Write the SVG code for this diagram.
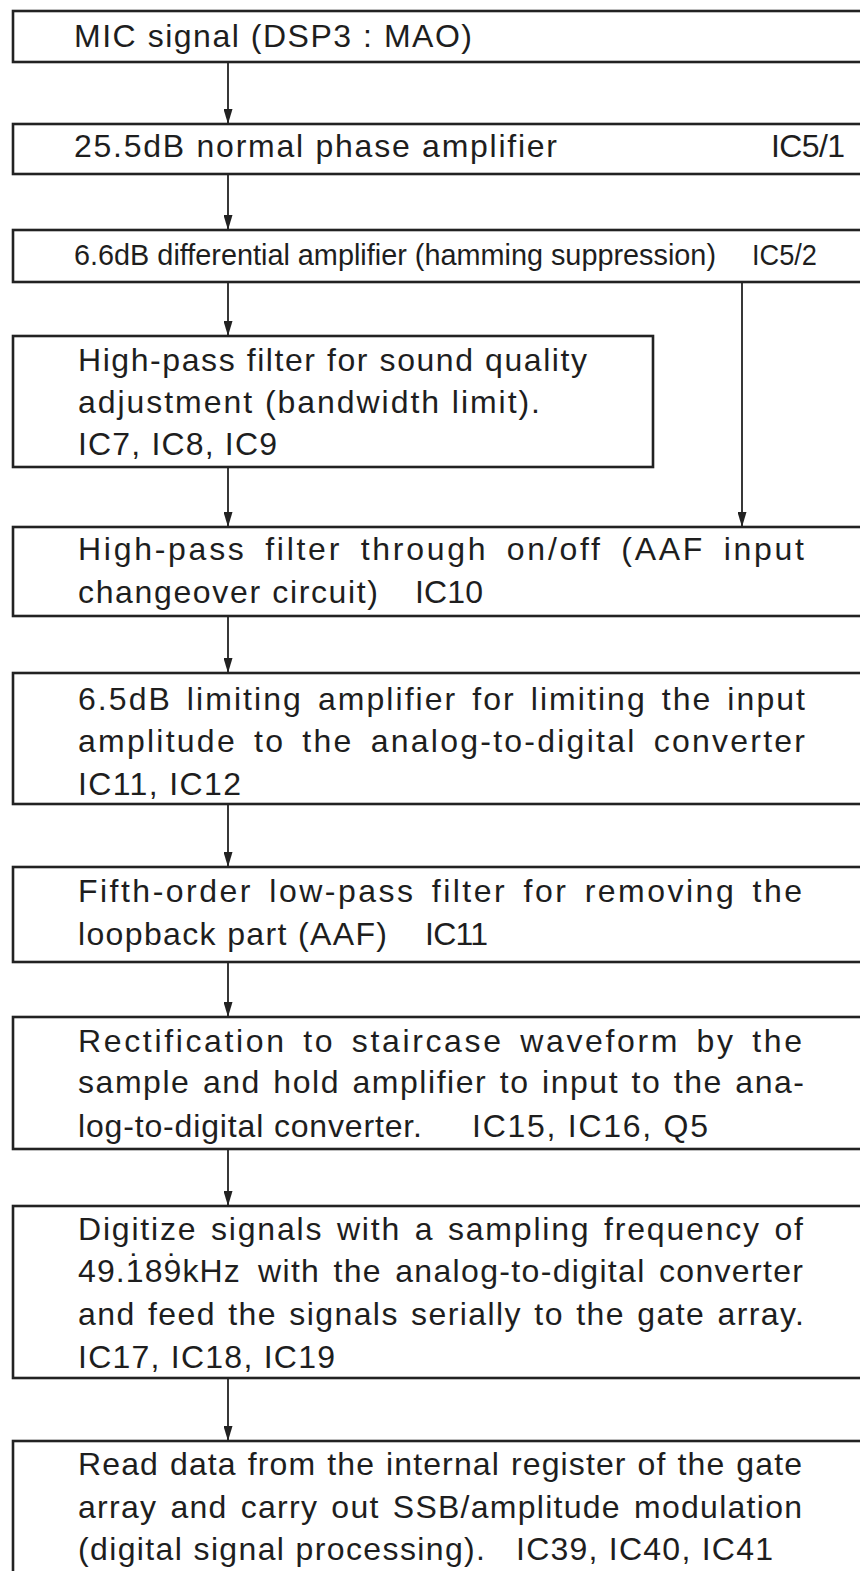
<svg xmlns="http://www.w3.org/2000/svg" width="860" height="1571" viewBox="0 0 860 1571">
<defs>
<style>
.box{fill:#fff;stroke:#222;stroke-width:2.6}
.con{fill:none;stroke:#222;stroke-width:1.8}
text{font-family:"Liberation Sans",Arial,Helvetica,sans-serif;font-size:32px;fill:#1e1e1e}
</style>
<marker id="ah" markerUnits="userSpaceOnUse" markerWidth="15" markerHeight="9" refX="15" refY="4.5" orient="auto" viewBox="0 0 15 9">
<path d="M0,0 L15,4.5 L0,9 z" fill="#222"/>
</marker>
</defs>
<rect width="860" height="1571" fill="#fff"/>
<g id="connectors">
<line class="con" x1="228" y1="62" x2="228" y2="124" marker-end="url(#ah)"/>
<line class="con" x1="228" y1="174" x2="228" y2="230" marker-end="url(#ah)"/>
<line class="con" x1="228" y1="282" x2="228" y2="336" marker-end="url(#ah)"/>
<line class="con" x1="742" y1="282" x2="742" y2="527" marker-end="url(#ah)"/>
<line class="con" x1="228" y1="467" x2="228" y2="527" marker-end="url(#ah)"/>
<line class="con" x1="228" y1="616" x2="228" y2="673" marker-end="url(#ah)"/>
<line class="con" x1="228" y1="804" x2="228" y2="867" marker-end="url(#ah)"/>
<line class="con" x1="228" y1="962" x2="228" y2="1017" marker-end="url(#ah)"/>
<line class="con" x1="228" y1="1149" x2="228" y2="1206" marker-end="url(#ah)"/>
<line class="con" x1="228" y1="1378" x2="228" y2="1441" marker-end="url(#ah)"/>
</g>
<g id="n1">
<rect class="box" x="13" y="11" width="870" height="51"/>
<text x="74" y="47" textLength="398">MIC signal (DSP3 : MAO)</text>
</g>
<g id="n2">
<rect class="box" x="13" y="124" width="870" height="50"/>
<text x="74" y="157" textLength="483">25.5dB normal phase amplifier</text>
<text x="771" y="157" textLength="74">IC5/1</text>
</g>
<g id="n3">
<rect class="box" x="13" y="230" width="870" height="52"/>
<text x="74" y="265" style="font-size:30px" textLength="642" lengthAdjust="spacingAndGlyphs">6.6dB differential amplifier (hamming suppression)</text>
<text x="752" y="265" style="font-size:30px" textLength="65" lengthAdjust="spacingAndGlyphs">IC5/2</text>
</g>
<g id="n4">
<rect class="box" x="13" y="336" width="640" height="131"/>
<text x="78" y="371" textLength="509">High-pass filter for sound quality</text>
<text x="78" y="413" textLength="462">adjustment (bandwidth limit).</text>
<text x="78" y="455" textLength="199">IC7, IC8, IC9</text>
</g>
<g id="n5">
<rect class="box" x="13" y="527" width="870" height="89"/>
<text x="78" y="560" textLength="726" word-spacing="7">High-pass filter through on/off (AAF input</text>
<text x="78" y="603" textLength="300">changeover circuit)</text>
<text x="415" y="603" textLength="68">IC10</text>
</g>
<g id="n6">
<rect class="box" x="13" y="673" width="870" height="131"/>
<text x="78" y="710" textLength="727" word-spacing="4">6.5dB limiting amplifier for limiting the input</text>
<text x="78" y="752" textLength="727" word-spacing="6">amplitude to the analog-to-digital converter</text>
<text x="78" y="795" textLength="163">IC11, IC12</text>
</g>
<g id="n7">
<rect class="box" x="13" y="867" width="870" height="95"/>
<text x="78" y="902" textLength="724" word-spacing="5">Fifth-order low-pass filter for removing the</text>
<text x="78" y="945" textLength="309">loopback part (AAF)</text>
<text x="425" y="945" textLength="63">IC11</text>
</g>
<g id="n8">
<rect class="box" x="13" y="1017" width="870" height="132"/>
<text x="78" y="1052" textLength="724" word-spacing="5">Rectification to staircase waveform by the</text>
<text x="78" y="1093" textLength="726" word-spacing="2">sample and hold amplifier to input to the ana-</text>
<text x="78" y="1137" textLength="344">log-to-digital converter.</text>
<text x="472" y="1137" textLength="236">IC15, IC16, Q5</text>
</g>
<g id="n9">
<rect class="box" x="13" y="1206" width="870" height="172"/>
<text x="78" y="1240" textLength="725" word-spacing="3">Digitize signals with a sampling frequency of</text>
<text x="78" y="1282" letter-spacing="1.1">49.1<tspan x="129.4" y="1276">˙</tspan><tspan x="144.7" y="1282">89</tspan><tspan x="167.2" y="1276">˙</tspan><tspan x="182.5" y="1282">kHz</tspan></text>
<text x="258" y="1282" textLength="545" word-spacing="3">with the analog-to-digital converter</text>
<text x="78" y="1325" textLength="726" word-spacing="2">and feed the signals serially to the gate array.</text>
<text x="78" y="1368" textLength="257">IC17, IC18, IC19</text>
</g>
<g id="n10">
<rect class="box" x="13" y="1441" width="870" height="160"/>
<text x="78" y="1475" textLength="724" word-spacing="1">Read data from the internal register of the gate</text>
<text x="78" y="1518" textLength="724" word-spacing="3">array and carry out SSB/amplitude modulation</text>
<text x="78" y="1560" textLength="407">(digital signal processing).</text>
<text x="516" y="1560" textLength="257">IC39, IC40, IC41</text>
</g>
</svg>
